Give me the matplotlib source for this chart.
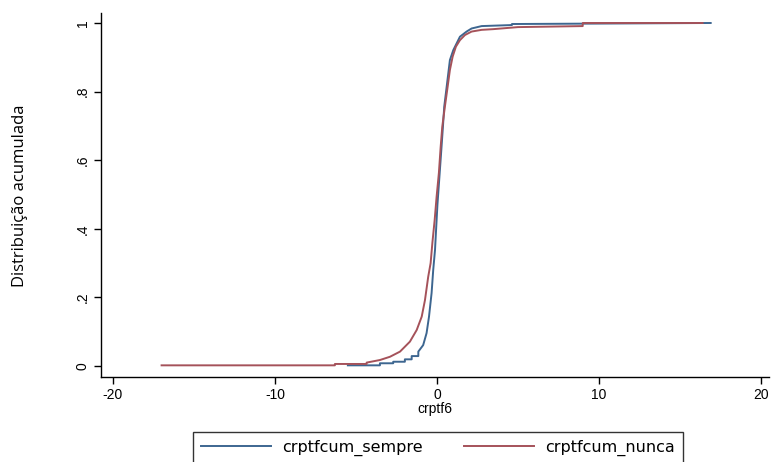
import matplotlib
matplotlib.use("Agg")
import matplotlib.pyplot as plt

sempre_x = [-5.5, -3.52, -3.52, -2.70, -2.70, -1.98, -1.98, -1.56, -1.56, -1.15, -1.15,
            -0.85, -0.64, -0.49, -0.33, -0.23, -0.12, -0.05, 0.03, 0.15, 0.27, 0.37,
            0.45, 0.60, 0.70, 0.80, 1.01, 1.22, 1.42, 1.83, 2.14, 2.76, 4.63, 4.63, 16.9]
sempre_y = [0.002, 0.002, 0.008, 0.008, 0.0125, 0.0125, 0.0195, 0.0195, 0.029, 0.029, 0.042,
            0.061, 0.096, 0.144, 0.213, 0.28, 0.338, 0.40, 0.47, 0.55, 0.63, 0.698,
            0.756, 0.814, 0.853, 0.892, 0.921, 0.941, 0.960, 0.975, 0.984, 0.991, 0.994, 0.997, 1.0]

nunca_x = [-17.0, -6.3, -6.3, -4.34, -4.34, -3.52, -2.90, -2.28, -1.67, -1.25, -0.94,
           -0.74, -0.54, -0.39, -0.28, -0.14, -0.02, 0.12, 0.23, 0.33,
           0.49, 0.66, 0.80, 0.97, 1.17, 1.42, 1.73, 2.14, 2.76, 3.46, 5.0, 9.0, 9.0, 16.4]
nunca_y = [0.002, 0.002, 0.006, 0.006, 0.01, 0.0175, 0.027, 0.042, 0.071, 0.105, 0.144,
           0.192, 0.26, 0.30, 0.36, 0.426, 0.494, 0.563, 0.639, 0.698,
           0.756, 0.814, 0.863, 0.902, 0.931, 0.950, 0.965, 0.975, 0.980, 0.982, 0.988, 0.991, 1.0, 1.0]

xticks = [-20, -10, 0, 10, 20]
yticks = [0, 0.2, 0.4, 0.6, 0.8, 1.0]
yticklabels = ["0", ".2", ".4", ".6", ".8", "1"]

blue = "#3d6690"
red = "#a5525a"

W, H = 772, 462
ax_l, ax_r, ax_b, ax_t = 101, 769, 377, 12.7

fig = plt.figure(figsize=(W / 100, H / 100), dpi=100)
ax = fig.add_axes([ax_l / W, (H - ax_b) / H, (ax_r - ax_l) / W, (ax_b - ax_t) / H])

ax.plot(sempre_x, sempre_y, color=blue, lw=1.4, label="crptfcum_sempre")
ax.plot(nunca_x, nunca_y, color=red, lw=1.4, label="crptfcum_nunca")

ax.set_xlim(-20.74, 20.5)
ax.set_ylim(-0.032, 1.03)
ax.spines["top"].set_visible(False)
ax.spines["right"].set_visible(False)
for s in ("left", "bottom"):
    ax.spines[s].set_linewidth(1.0)
    ax.spines[s].set_color("black")

ax.set_xticks(xticks)
ax.set_xticklabels([str(t) for t in xticks], fontsize=10, family="Liberation Sans")
ax.set_yticks(yticks)
ax.set_yticklabels(yticklabels, fontsize=10, family="Liberation Sans", rotation=90, va="center")
ax.tick_params(direction="out", length=5, width=1, pad=3)

ax.set_xlabel("crptf6", fontsize=10, family="Liberation Sans", labelpad=0)
ax.set_ylabel("Distribuição acumulada", fontsize=12, family="Open Sans")
ax.yaxis.set_label_coords((20 - ax_l) / (ax_r - ax_l), (ax_b - 196) / (ax_b - ax_t))
ax.yaxis.label.set_va("center")

leg = fig.legend(loc="upper left", bbox_to_anchor=(193 / W, 0, 490 / W, 1 - 432 / H),
                 mode="expand", ncol=2, frameon=True, fancybox=False,
                 handlelength=4.4, handletextpad=0.7, borderpad=0.5, borderaxespad=0,
                 prop={"family": "DejaVu Sans", "size": 11.5})
leg.get_frame().set_edgecolor("black")
leg.get_frame().set_linewidth(1.0)

fig.savefig("out.png", dpi=100)
